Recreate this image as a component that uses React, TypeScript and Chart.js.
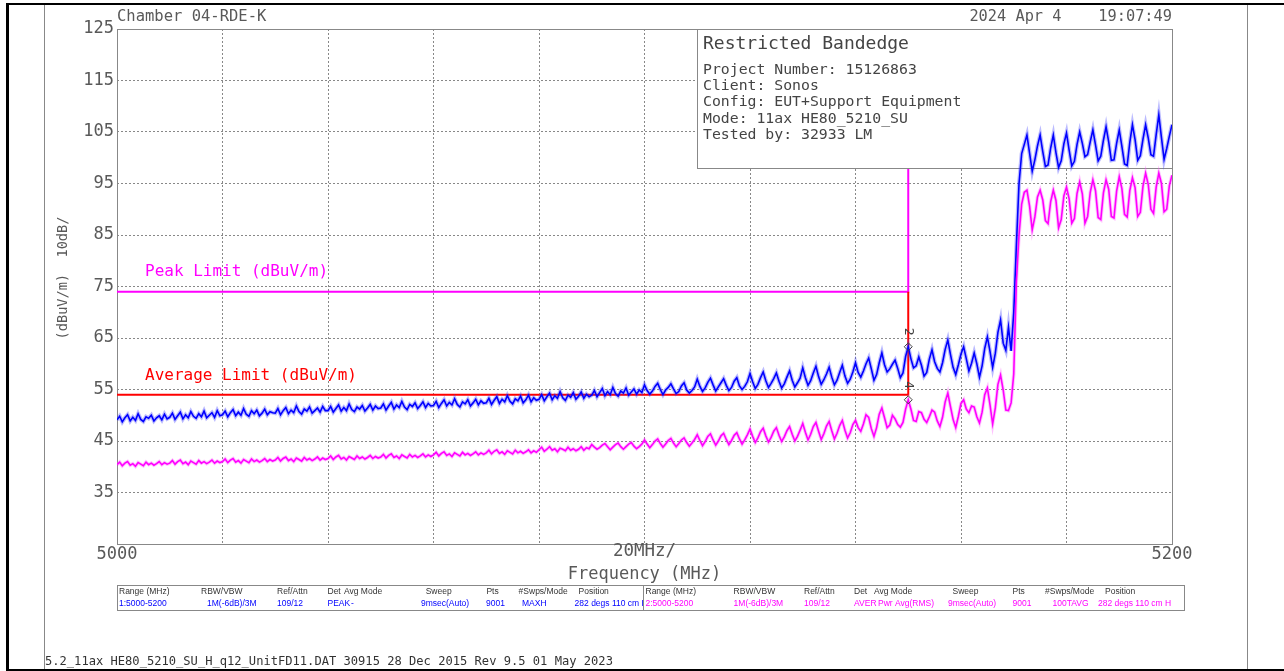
import React, { useEffect, useRef } from 'react';
import { Chart, registerables } from 'chart.js';

Chart.register(...registerables);

// ---- Data ----
const FREQ_START = 5000;
const FREQ_STEP = 0.5;
const X_MIN = 5000;
const X_MAX = 5200;
const X_STEP = 20;
const Y_MIN = 25;
const Y_MAX = 125;
const Y_STEP = 10;
const X_TICK_LABELS = [5000, 5200];

// Trace 1 : peak detector, max hold (dBuV/m), one value every 0.5 MHz from 5000 MHz
const PEAK_TRACE = [
  49.1, 49.8, 48.7, 49.5, 50.1, 48.9, 49.6, 49.0, 50.3, 49.2, 48.8, 49.7, 49.4, 50.0, 48.9, 49.5, 49.9, 49.1, 50.2, 49.3,
  49.6, 50.4, 49.2, 49.9, 50.6, 49.3, 50.1, 49.5, 50.7, 49.8, 49.4, 50.3, 49.7, 50.8, 49.5, 50.0, 50.5, 49.6, 50.9, 49.9,
  50.1, 50.8, 49.7, 50.5, 51.1, 49.9, 50.6, 50.0, 51.3, 50.2, 49.8, 50.9, 50.3, 51.0, 49.9, 50.4, 51.2, 50.1, 50.7, 50.5,
  50.4, 51.3, 50.1, 50.9, 51.5, 50.3, 51.0, 50.5, 51.8, 50.7, 50.2, 51.2, 50.8, 51.6, 50.4, 50.9, 51.4, 50.6, 51.7, 50.9,
  50.9, 51.7, 50.6, 51.3, 52.0, 50.8, 51.5, 50.9, 52.2, 51.1, 50.7, 51.6, 51.2, 51.9, 50.8, 51.4, 52.1, 51.0, 51.8, 51.3,
  51.4, 52.2, 51.0, 51.8, 52.5, 51.2, 52.0, 51.5, 52.7, 51.6, 51.1, 52.1, 51.7, 52.4, 51.3, 51.9, 52.6, 51.5, 52.3, 51.8,
  51.9, 52.7, 51.5, 52.3, 53.0, 51.8, 52.5, 52.0, 53.2, 52.1, 51.6, 52.6, 52.2, 53.0, 51.8, 52.4, 53.1, 52.0, 52.8, 52.3,
  52.4, 53.3, 52.1, 52.9, 53.6, 52.3, 53.1, 52.6, 53.8, 52.7, 52.2, 53.2, 52.8, 53.7, 52.4, 53.0, 53.9, 52.6, 53.4, 52.9,
  53.1, 54.0, 52.8, 53.6, 54.3, 53.0, 53.8, 53.3, 54.6, 53.4, 52.9, 53.9, 53.5, 54.4, 53.1, 53.7, 54.5, 53.3, 54.1, 53.6,
  53.9, 54.8, 53.6, 54.4, 55.2, 53.8, 54.6, 54.0, 55.4, 54.2, 53.7, 54.7, 54.3, 55.3, 53.9, 54.5, 55.1, 54.1, 54.9, 54.4,
  55.9, 54.8, 54.1, 54.7, 55.6, 56.2, 55.0, 54.0, 54.9, 55.4, 56.1, 55.1, 54.2, 54.6, 55.7, 56.3, 54.9, 54.3, 54.8, 55.5,
  57.0, 55.6, 54.6, 55.3, 56.4, 57.2, 55.9, 54.7, 55.5, 56.3, 57.1, 55.8, 54.8, 55.4, 56.6, 57.3, 55.7, 55.0, 55.6, 56.5,
  58.1, 56.5, 55.2, 56.0, 57.3, 58.4, 56.7, 55.4, 56.2, 57.1, 58.2, 56.6, 55.3, 56.1, 57.4, 58.6, 56.8, 55.5, 56.3, 57.2,
  59.2, 57.3, 55.8, 56.7, 58.2, 59.5, 57.5, 56.0, 56.9, 58.0, 59.3, 57.4, 55.9, 56.8, 58.3, 59.7, 57.6, 56.2, 57.0, 58.4,
  60.2, 58.3, 57.4, 58.6, 60.0, 61.1, 59.0, 56.8, 57.9, 60.2, 62.1, 59.8, 58.4, 59.0, 59.9, 60.7, 59.1, 57.3, 58.2, 61.4,
  63.3, 61.0, 59.2, 59.6, 61.3, 59.7, 57.6, 58.3, 60.9, 62.7, 60.4, 59.1, 58.4, 60.2, 62.8, 64.6, 61.8, 59.3, 57.9, 59.8,
  61.9, 63.3, 61.0, 58.6, 60.1, 62.1, 60.0, 57.4, 59.6, 63.0, 65.2, 62.4, 59.3, 62.0, 66.1, 68.5, 64.0, 62.6, 67.1, 62.5,
  70.0, 83.0, 95.0, 100.8, 102.6, 104.4, 100.9, 97.4, 99.6, 102.3, 104.4, 101.2, 98.3, 98.6, 101.9, 104.4, 101.0, 98.1, 99.4, 102.7,
  104.8, 101.5, 98.4, 99.3, 102.6, 105.0, 102.8, 100.2, 100.6, 103.1, 105.4, 102.5, 99.4, 100.3, 103.4, 106.0, 103.1, 99.5, 99.6, 102.8,
  105.4, 102.2, 98.8, 98.5, 103.0, 106.4, 103.5, 99.5, 100.4, 103.6, 106.4, 103.8, 100.6, 100.3, 104.5, 108.3, 103.9, 99.7, 101.8, 104.2,
  106.4,
];

// Trace 2 : RMS average (dBuV/m), same frequency grid
const AVG_TRACE = [
  40.4, 40.9, 40.2, 40.7, 41.0, 40.3, 40.6, 40.1, 40.8, 40.5, 40.2, 40.9, 40.4, 40.7, 40.3, 40.6, 41.0, 40.4, 40.8, 40.5,
  40.7, 41.2, 40.5, 41.0, 41.3, 40.6, 40.9, 40.4, 41.1, 40.8, 40.5, 41.2, 40.7, 41.0, 40.6, 40.9, 41.3, 40.7, 41.1, 40.8,
  41.0, 41.5, 40.8, 41.3, 41.6, 40.9, 41.2, 40.7, 41.4, 41.1, 40.8, 41.5, 41.0, 41.3, 40.9, 41.2, 41.6, 41.0, 41.4, 41.1,
  41.3, 41.8, 41.1, 41.6, 41.9, 41.2, 41.5, 41.0, 41.7, 41.4, 41.1, 41.8, 41.3, 41.6, 41.2, 41.5, 41.9, 41.3, 41.7, 41.4,
  41.6, 42.1, 41.4, 41.9, 42.2, 41.5, 41.8, 41.3, 42.0, 41.7, 41.4, 42.1, 41.6, 41.9, 41.5, 41.8, 42.2, 41.6, 42.0, 41.7,
  41.9, 42.4, 41.7, 42.2, 42.5, 41.8, 42.1, 41.6, 42.3, 42.0, 41.7, 42.4, 41.9, 42.2, 41.8, 42.1, 42.5, 41.9, 42.3, 42.0,
  42.3, 42.8, 42.1, 42.6, 42.9, 42.2, 42.5, 42.0, 42.7, 42.4, 42.1, 42.8, 42.3, 42.6, 42.2, 42.5, 42.9, 42.3, 42.7, 42.4,
  42.7, 43.2, 42.5, 43.0, 43.3, 42.6, 42.9, 42.4, 43.1, 42.8, 42.5, 43.2, 42.7, 43.0, 42.6, 42.9, 43.3, 42.7, 43.1, 42.8,
  43.3, 43.8, 43.0, 43.4, 43.9, 43.2, 43.5, 42.9, 43.6, 43.4, 43.1, 43.8, 43.2, 43.5, 43.1, 43.4, 43.9, 43.2, 43.7, 43.5,
  44.3, 43.8, 43.4, 43.7, 44.2, 44.5, 43.9, 43.3, 43.8, 44.3, 44.6, 43.9, 43.4, 43.9, 44.4, 44.7, 44.0, 43.5, 43.9, 44.4,
  45.2, 44.4, 43.7, 44.3, 45.0, 45.4, 44.5, 43.8, 44.4, 45.1, 45.5, 44.6, 43.9, 44.5, 45.2, 45.6, 44.7, 44.0, 44.6, 45.3,
  46.2, 45.1, 44.1, 44.9, 45.9, 46.4, 45.2, 44.2, 45.0, 46.0, 46.5, 45.3, 44.3, 45.1, 46.1, 46.6, 45.4, 44.4, 45.2, 46.2,
  47.3, 45.9, 44.7, 45.6, 46.8, 47.5, 46.0, 44.8, 45.7, 46.9, 47.6, 46.1, 44.9, 45.8, 47.0, 47.8, 46.3, 45.0, 45.9, 47.1,
  48.4, 46.7, 45.2, 46.3, 47.8, 48.6, 46.9, 45.3, 46.4, 47.9, 48.8, 47.0, 45.4, 46.5, 48.0, 49.0, 47.1, 45.6, 46.6, 48.2,
  49.0, 47.6, 46.9, 48.3, 50.1, 49.6, 47.4, 45.9, 47.6, 50.2, 51.4, 49.5, 47.6, 48.1, 50.0, 49.3, 48.2, 47.7, 48.6, 51.2,
  53.0, 51.2, 49.0, 48.8, 50.7, 50.5, 49.2, 48.6, 49.7, 51.0, 50.6, 48.9, 47.8, 49.6, 52.6, 54.3, 51.7, 49.2, 47.6, 49.8,
  52.3, 53.0, 51.2, 50.5, 51.8, 51.6, 49.7, 48.5, 50.6, 54.0, 55.3, 52.0, 48.3, 51.4, 56.0, 57.8, 54.9, 51.0, 50.9, 52.4,
  58.0, 76.0, 85.0, 91.0, 93.3, 93.7, 90.6, 86.0, 88.5, 92.4, 93.7, 91.8, 87.8, 87.2, 91.5, 93.7, 91.7, 86.4, 88.0, 92.6,
  94.3, 92.0, 87.3, 88.2, 93.1, 95.3, 93.0, 87.3, 88.6, 93.3, 95.7, 93.6, 88.4, 88.0, 93.2, 95.7, 93.9, 88.6, 88.3, 93.5,
  96.3, 94.0, 89.0, 88.5, 93.6, 96.1, 94.2, 88.6, 89.4, 94.5, 97.0, 94.8, 90.0, 89.2, 94.3, 97.0, 95.0, 89.5, 90.0, 94.6,
  96.6,
];

const PEAK_LIMIT_FREQS = [5000, 5150, 5150];
const PEAK_LIMIT_VALUES = [74, 74, 125];
const AVG_LIMIT_FREQS = [5000, 5150, 5150];
const AVG_LIMIT_VALUES = [54, 54, 74];

const MARKER_FREQS = [5150, 5150];
const MARKER_VALUES = [63.3, 53.0];
const MARKER_LABELS = ['2', '4'];

const HEADER_LEFT = 'Chamber 04-RDE-K';
const HEADER_RIGHT = '2024 Apr 4    19:07:49';
const INFO_TITLE = 'Restricted Bandedge';
const INFO_LINES = [
  'Project Number: 15126863',
  'Client: Sonos',
  'Config: EUT+Support Equipment',
  'Mode: 11ax HE80_5210_SU',
  'Tested by: 32933 LM',
];
const Y_TITLE = '(dBuV/m)  10dB/';
const X_SPAN_LABEL = '20MHz/';
const X_TITLE = 'Frequency (MHz)';
const PEAK_LIMIT_LABEL = 'Peak Limit (dBuV/m)';
const AVG_LIMIT_LABEL = 'Average Limit (dBuV/m)';
const FOOTER = '5.2_11ax HE80_5210_SU_H_q12_UnitFD11.DAT 30915 28 Dec 2015 Rev 9.5 01 May 2023';

const TABLE_HEADERS = ['Range (MHz)', 'RBW/VBW', 'Ref/Attn', 'Det', 'Avg Mode', 'Sweep', 'Pts', '#Swps/Mode', 'Position'];
const TABLE_ROW_1 = ['1:5000-5200', '1M(-6dB)/3M', '109/12', 'PEAK', '-', '9msec(Auto)', '9001', 'MAXH', '282 degs 110 cm H'];
const TABLE_ROW_2 = ['2:5000-5200', '1M(-6dB)/3M', '109/12', 'AVER', 'Pwr Avg(RMS)', '9msec(Auto)', '9001', '100TAVG', '282 degs 110 cm H'];

// ---- Styles ----
const MONO = '"DejaVu Sans Mono", "Liberation Mono", monospace';
const SANS = '"Liberation Sans", Arial, sans-serif';
const TEXT_GREY = '#595959';
const BLUE = '#0000ff';
const MAGENTA = '#ff00ff';
const RED = '#ff0000';

function txt(ctx: CanvasRenderingContext2D, s: string, x: number, y: number, font: string, color: string, align: CanvasTextAlign = 'left') {
  ctx.font = font;
  ctx.fillStyle = color;
  ctx.textAlign = align;
  ctx.textBaseline = 'middle';
  ctx.fillText(s, x, y);
}

export default function App() {
  const ref = useRef<HTMLCanvasElement>(null);

  useEffect(() => {
    document.body.style.margin = '0';
    const canvas = ref.current!;
    const freqs = PEAK_TRACE.map((_, i) => FREQ_START + i * FREQ_STEP);
    const toXY = (xs: number[], ys: number[]) => xs.map((x, i) => ({ x, y: ys[i] }));
    const MARKER_INDEX = 6;
    const BOX_BEFORE_INDEX = 2;

    const overlay = {
      id: 'overlay',
      beforeDraw(chart: any) {
        const ctx = chart.ctx as CanvasRenderingContext2D;
        ctx.save();
        ctx.fillStyle = '#fff';
        ctx.fillRect(0, 0, chart.width, chart.height);
        ctx.restore();
      },
      beforeDatasetsDraw(chart: any) {
        const ctx = chart.ctx as CanvasRenderingContext2D;
        const a = chart.chartArea;
        ctx.save();
        ctx.strokeStyle = '#888';
        ctx.lineWidth = 1;
        ctx.strokeRect(Math.round(a.left) + 0.5, Math.round(a.top) + 0.5, Math.round(a.right - a.left), Math.round(a.bottom - a.top));
        ctx.restore();
      },
      beforeDatasetDraw(chart: any, args: any) {
        if (args.index !== BOX_BEFORE_INDEX) return;
        const ctx = chart.ctx as CanvasRenderingContext2D;
        const a = chart.chartArea;
        ctx.save();
        const bx = 697.5, by = Math.round(a.top) + 0.5;
        const bw = Math.round(a.right) - 697, bh = 139;
        ctx.fillStyle = '#fff';
        ctx.fillRect(bx, by, bw, bh);
        ctx.strokeStyle = '#888';
        ctx.lineWidth = 1;
        ctx.strokeRect(bx, by, bw, bh);
        txt(ctx, INFO_TITLE, 703, 44, `18px ${MONO}`, '#444');
        INFO_LINES.forEach((l, i) => txt(ctx, l, 703, 70 + i * 16.3, `14.8px ${MONO}`, '#444'));
        ctx.restore();
      },
      afterDraw(chart: any) {
        const ctx = chart.ctx as CanvasRenderingContext2D;
        const a = chart.chartArea;
        ctx.save();
        // page frame
        ctx.fillStyle = '#000';
        ctx.fillRect(6, 3, 3, 668);
        ctx.fillRect(6, 3, 1278, 2);
        ctx.fillRect(6, 669, 1278, 2);
        ctx.fillStyle = '#888';
        ctx.fillRect(44, 5, 1, 664);
        ctx.fillRect(1247, 5, 1, 664);

        // header
        txt(ctx, HEADER_LEFT, a.left, 17, `15.5px ${MONO}`, TEXT_GREY);
        txt(ctx, HEADER_RIGHT, a.right, 17, `15.3px ${MONO}`, TEXT_GREY, 'right');

        // y title
        ctx.save();
        ctx.translate(63, 278);
        ctx.rotate(-Math.PI / 2);
        txt(ctx, Y_TITLE, 0, 0, `13.6px ${MONO}`, TEXT_GREY, 'center');
        ctx.restore();

        // x labels
        const cx = (a.left + a.right) / 2;
        txt(ctx, X_SPAN_LABEL, cx, 551, `17.5px ${MONO}`, TEXT_GREY, 'center');
        txt(ctx, X_TITLE, cx, 575, `17px ${MONO}`, TEXT_GREY, 'center');

        // limit labels
        txt(ctx, PEAK_LIMIT_LABEL, 145, 272, `16px ${MONO}`, MAGENTA);
        txt(ctx, AVG_LIMIT_LABEL, 145, 376, `16px ${MONO}`, RED);

        // marker labels
        const meta = chart.getDatasetMeta(MARKER_INDEX);
        meta.data.forEach((p: any, i: number) => {
          ctx.save();
          ctx.translate(p.x, p.y - 15);
          ctx.rotate(Math.PI / 2);
          txt(ctx, MARKER_LABELS[i], 0, 0, `13px ${MONO}`, '#444', 'center');
          ctx.restore();
        });

        // settings table
        ctx.strokeStyle = '#888';
        ctx.lineWidth = 1;
        ctx.strokeRect(117.5, 585.5, 1067, 25);
        ctx.beginPath();
        ctx.moveTo(643.5, 585.5);
        ctx.lineTo(643.5, 610.5);
        ctx.stroke();
        const f = `8.5px ${SANS}`;
        const hl = [119, 201, 277, 327.5, 344, 425.7, 486.4, 518.6, 578.6];
        const vl = [119, 207, 277, 327.5, 351, 421, 486, 522, 574.6];
        const hr = [645.5, 733.6, 804, 854, 874, 952.5, 1012.5, 1045, 1105];
        const vr = [645.5, 733.6, 804, 854, 878, 948, 1012.5, 1052.5, 1098];
        ctx.save();
        ctx.beginPath();
        ctx.rect(118, 586, 525, 24);
        ctx.clip();
        TABLE_HEADERS.forEach((h, i) => txt(ctx, h, hl[i], 592, f, '#333'));
        TABLE_ROW_1.forEach((v, i) => txt(ctx, v, vl[i], 604, f, BLUE));
        ctx.restore();
        ctx.save();
        ctx.beginPath();
        ctx.rect(644, 586, 540, 24);
        ctx.clip();
        TABLE_HEADERS.forEach((h, i) => txt(ctx, h, hr[i], 592, f, '#333'));
        TABLE_ROW_2.forEach((v, i) => txt(ctx, v, vr[i], 604, f, MAGENTA));
        ctx.restore();

        // footer
        txt(ctx, FOOTER, 45, 662, `12.1px ${MONO}`, '#333');
        ctx.restore();
      },
    };

    const peakData = toXY(freqs, PEAK_TRACE);
    const avgData = toXY(freqs, AVG_TRACE);

    const chart = new Chart(canvas, {
      type: 'line',
      data: {
        datasets: [
          { label: 'Peak Limit', data: toXY(PEAK_LIMIT_FREQS, PEAK_LIMIT_VALUES), borderColor: MAGENTA, borderWidth: 2, pointRadius: 0, tension: 0, order: 7 },
          { label: 'Average Limit', data: toXY(AVG_LIMIT_FREQS, AVG_LIMIT_VALUES), borderColor: RED, borderWidth: 2, pointRadius: 0, tension: 0, order: 6 },
          { label: 'Peak MAXH halo', data: peakData, borderColor: 'rgba(60,60,255,0.35)', borderWidth: 4, pointRadius: 0, tension: 0, order: 5 },
          { label: 'Average RMS halo', data: avgData, borderColor: 'rgba(255,80,255,0.35)', borderWidth: 3.5, pointRadius: 0, tension: 0, order: 4 },
          { label: 'Peak MAXH', data: peakData, borderColor: BLUE, borderWidth: 1.6, pointRadius: 0, tension: 0, order: 3 },
          { label: 'Average RMS', data: avgData, borderColor: MAGENTA, borderWidth: 1.6, pointRadius: 0, tension: 0, order: 2 },
          { label: 'Markers', data: toXY(MARKER_FREQS, MARKER_VALUES), showLine: false, pointStyle: 'rectRot', pointRadius: 4, borderColor: '#444', borderWidth: 1, backgroundColor: 'rgba(0,0,0,0)', order: 1 },
        ],
      } as any,
      options: {
        animation: false,
        responsive: false,
        events: [],
        layout: { padding: { left: 0, top: 29, right: 112, bottom: 0 } },
        plugins: { legend: { display: false }, tooltip: { enabled: false }, title: { display: false } },
        scales: {
          x: {
            type: 'linear',
            min: X_MIN,
            max: X_MAX,
            afterFit: (s: any) => { s.height = 127; },
            ticks: {
              stepSize: X_STEP,
              autoSkip: false,
              maxRotation: 0,
              padding: 0,
              color: TEXT_GREY,
              font: { family: MONO, size: 17 },
              callback: (v: any) => (X_TICK_LABELS.includes(Number(v)) ? String(v) : ''),
            },
            grid: { color: '#888', lineWidth: 1, drawTicks: false },
            border: { display: false, dash: [2, 2] },
          },
          y: {
            type: 'linear',
            min: Y_MIN,
            max: Y_MAX,
            afterFit: (s: any) => { s.width = 117; },
            ticks: {
              stepSize: Y_STEP,
              autoSkip: false,
              padding: 3,
              color: TEXT_GREY,
              font: { family: MONO, size: 17 },
              callback: (v: any) => (Number(v) === Y_MIN ? '' : String(v)),
            },
            grid: { color: '#888', lineWidth: 1, drawTicks: false },
            border: { display: false, dash: [2, 2] },
          },
        },
      } as any,
      plugins: [overlay],
    });
    return () => chart.destroy();
  }, []);

  return <canvas ref={ref} width={1284} height={671} style={{ display: 'block', width: 1284, height: 671 }} />;
}
